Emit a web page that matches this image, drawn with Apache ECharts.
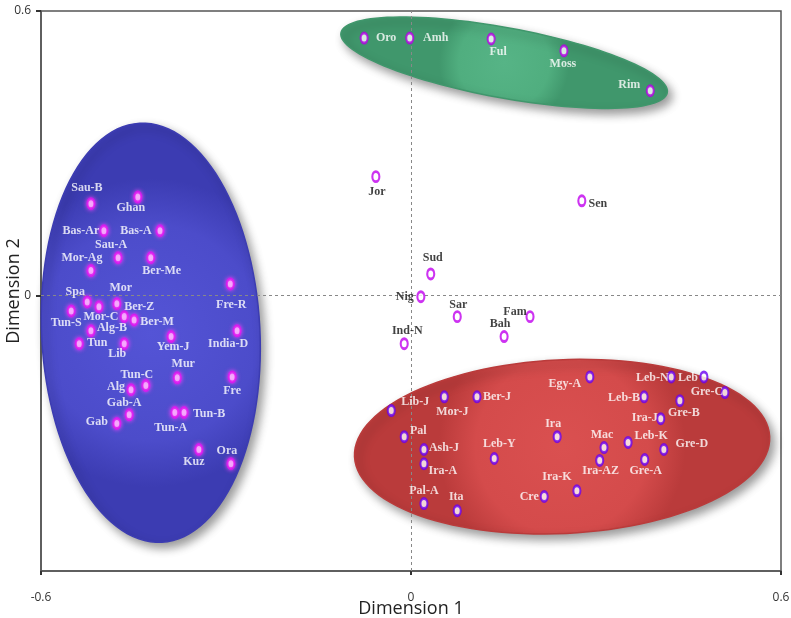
<!DOCTYPE html>
<html>
<head>
<meta charset="utf-8">
<script src="https://cdn.jsdelivr.net/npm/echarts@6/dist/echarts.min.js"></script>
<style>
html,body{margin:0;padding:0;background:#fff;}
#chart{width:791px;height:618px;}
</style>
</head>
<body>
<div id="chart"></div>
<script>
// ---- data ----
const greenNames = ['Oro','Amh','Ful','Moss','Rim'];
const greenX = [-0.076,-0.002,0.130,0.248,0.388];
const greenY = [0.543,0.543,0.541,0.516,0.432];

const otherNames = ['Jor','Sen','Sud','Nig','Sar','Fam','Bah','Ind-N'];
const otherX = [-0.057,0.277,0.032,0.016,0.075,0.193,0.151,-0.011];
const otherY = [0.251,0.200,0.046,-0.002,-0.044,-0.044,-0.086,-0.101];

const blueNames = ['Sau-B','Ghan','Bas-Ar','Bas-A','Sau-A','Mor-Ag','Ber-Me','Fre-R','Spa','Mor','Mor-C','Tun-S','Ber-Z','Ber-M','Alg-B','India-D','Tun','Lib','Yem-J','Mur','Fre','Tun-C','Alg','Gab-A','Gab','Tun-A','Tun-B','Kuz','Ora'];
const blueX = [-0.519,-0.443,-0.498,-0.407,-0.475,-0.519,-0.422,-0.293,-0.525,-0.477,-0.506,-0.551,-0.465,-0.449,-0.519,-0.282,-0.538,-0.465,-0.389,-0.379,-0.290,-0.430,-0.454,-0.457,-0.477,-0.383,-0.368,-0.344,-0.292];
const blueY = [0.194,0.208,0.137,0.137,0.080,0.053,0.080,0.025,-0.013,-0.017,-0.023,-0.032,-0.044,-0.051,-0.074,-0.074,-0.101,-0.101,-0.086,-0.173,-0.171,-0.189,-0.198,-0.251,-0.269,-0.246,-0.246,-0.324,-0.354];

const redNames = ['Lib-J','Mor-J','Ber-J','Pal','Ash-J','Ira-A','Leb-Y','Ira','Pal-A','Ita','Cre','Egy-A','Ira-K','Leb-N','Leb','Gre-C','Leb-B','Gre-B','Ira-J','Mac','Leb-K','Gre-D','Ira-AZ','Gre-A'];
const redX = [-0.032,0.054,0.107,-0.011,0.021,0.021,0.135,0.237,0.021,0.075,0.216,0.290,0.269,0.422,0.475,0.509,0.378,0.436,0.405,0.313,0.352,0.410,0.306,0.379];
const redY = [-0.242,-0.213,-0.213,-0.297,-0.324,-0.354,-0.343,-0.297,-0.438,-0.453,-0.423,-0.171,-0.411,-0.171,-0.171,-0.204,-0.213,-0.221,-0.259,-0.320,-0.309,-0.324,-0.347,-0.345];

const xTicks = [-0.6, 0, 0.6];
const yTicks = [0, 0.6];

// ---- annotation shapes (cluster ellipses): centre x, centre y, radius x, radius y, tilt deg ----
const clusterEllipses = [
  [-0.422, -0.078, 0.177, 0.442, -3],
  [0.151, 0.491, 0.269, 0.074, 10.4],
  [0.245, -0.318, 0.337, 0.183, -2.8]
];
const ellipseFills = [
  ['#5454d6', '#4c4cca', '#3c3cb2'],
  ['#56b486', '#50ae7f', '#40976c'],
  ['#da5050', '#d44b4b', '#ba3b3b']
];

// label placement (px offsets from point)
const labelOffsets = {
  'Oro':[22,0],'Amh':[26,0],'Ful':[7,13],'Moss':[-1,13],'Rim':[-21,-6],
  'Jor':[1,15],'Sen':[16,3],'Sud':[2,-16],'Nig':[-16,0],'Sar':[1,-12],'Fam':[-15,-5],'Bah':[-4,-13],'Ind-N':[3,-13],
  'Sau-B':[-4,-16],'Ghan':[-7,11],'Bas-Ar':[-23,0],'Bas-A':[-24,0],'Sau-A':[-7,-13],'Mor-Ag':[-9,-13],'Ber-Me':[11,13],
  'Fre-R':[1,21],'Spa':[-12,-10],'Mor':[4,-16],'Mor-C':[2,10],'Tun-S':[-5,12],'Ber-Z':[15,-10],'Ber-M':[23,2],
  'Alg-B':[21,-3],'India-D':[-9,13],'Tun':[18,-1],'Lib':[-7,10],'Yem-J':[2,10],'Mur':[6,-14],'Fre':[0,14],
  'Tun-C':[-9,-11],'Alg':[-15,-3],'Gab-A':[-5,-12],'Gab':[-20,-2],'Tun-A':[-4,15],'Tun-B':[25,1],'Kuz':[-5,12],'Ora':[-4,-13],
  'Lib-J':[24,-9],'Mor-J':[8,15],'Ber-J':[20,0],'Pal':[14,-6],'Ash-J':[20,-2],'Ira-A':[19,7],'Leb-Y':[5,-15],
  'Ira':[-4,-13],'Pal-A':[0,-13],'Ita':[-1,-14],'Cre':[-15,0],'Egy-A':[-25,7],'Ira-K':[-20,-14],'Leb-N':[-19,1],
  'Leb':[-16,1],'Gre-C':[-18,-1],'Leb-B':[-20,1],'Gre-B':[4,12],'Ira-J':[-16,-1],'Mac':[-2,-13],'Leb-K':[23,-6],
  'Gre-D':[28,-6],'Ira-AZ':[1,10],'Gre-A':[1,11]
};

function build(names, xs, ys) {
  return names.map((n, i) => ({
    name: n,
    value: [xs[i], ys[i]],
    label: { offset: labelOffsets[n] || [0, 0] }
  }));
}

function scatterSeries(name, data, ring, textColor, glow) {
  return {
    type: 'scatter',
    name: name,
    z: 5,
    symbol: 'circle',
    symbolSize: [7, 10],
    data: data,
    itemStyle: {
      color: '#ffffff',
      borderColor: ring,
      borderWidth: 2.5,
      shadowBlur: glow ? 4 : 0,
      shadowColor: glow || 'transparent'
    },
    label: {
      show: true,
      position: 'inside',
      formatter: '{b}',
      color: textColor,
      fontFamily: 'Liberation Serif',
      fontWeight: 'bold',
      fontSize: 12
    },
    emphasis: { disabled: true }
  };
}

const chart = echarts.init(document.getElementById('chart'), null, { renderer: 'canvas' });

const option = {
  backgroundColor: '#ffffff',
  animation: false,
  grid: {
    left: 41, right: 10, top: 11, bottom: 47,
    containLabel: false,
    outerBoundsMode: 'none',
    show: true, borderColor: '#555', borderWidth: 1.5, backgroundColor: 'transparent'
  },
  xAxis: {
    type: 'value',
    min: xTicks[0], max: xTicks[2], interval: 0.6,
    name: 'Dimension 1',
    nameLocation: 'middle',
    nameGap: 29,
    nameMoveOverlap: false,
    nameTextStyle: { fontFamily: 'Open Sans', fontSize: 18, color: '#222' },
    axisLine: { show: true, onZero: false, lineStyle: { color: '#555', width: 1.5 } },
    axisTick: { show: true, length: 4, lineStyle: { color: '#333', width: 2 } },
    axisLabel: { margin: 21, fontFamily: 'Open Sans', fontSize: 12, color: '#333',
      formatter: v => (Math.abs(v) < 1e-9 ? '0' : String(v)) },
    splitLine: { show: false }
  },
  yAxis: {
    type: 'value',
    min: -0.58, max: 0.6,
    name: 'Dimension 2',
    nameLocation: 'middle',
    nameGap: 18,
    nameMoveOverlap: false,
    nameTextStyle: { fontFamily: 'Open Sans', fontSize: 18, color: '#222' },
    axisLine: { show: true, onZero: false, lineStyle: { color: '#555', width: 1.5 } },
    axisTick: { show: true, length: 5, customValues: yTicks, lineStyle: { color: '#333', width: 2 } },
    axisLabel: { margin: 10, fontFamily: 'Open Sans', fontSize: 12, color: '#333', customValues: yTicks,
      formatter: v => (Math.abs(v) < 1e-9 ? '0' : String(v)) },
    splitLine: { show: false }
  },
  series: [
    {
      type: 'custom',
      name: 'clusters',
      z: 1,
      clip: false,
      silent: true,
      data: clusterEllipses,
      renderItem: function (params, api) {
        const c = api.coord([api.value(0), api.value(1)]);
        const s = api.size([api.value(2), api.value(3)]);
        const rx = s[0], ry = s[1];
        const th = api.value(4) * Math.PI / 180;
        const pts = [];
        for (let i = 0; i < 120; i++) {
          const t = i / 120 * Math.PI * 2;
          const ux = rx * Math.cos(t), uy = ry * Math.sin(t);
          pts.push([c[0] + ux * Math.cos(th) - uy * Math.sin(th),
                    c[1] + ux * Math.sin(th) + uy * Math.cos(th)]);
        }
        const f = ellipseFills[params.dataIndex];
        return {
          type: 'polygon',
          shape: { points: pts },
          style: {
            fill: new echarts.graphic.RadialGradient(0.5, 0.5, 0.7, [
              { offset: 0, color: f[0] },
              { offset: 0.7, color: f[1] },
              { offset: 1, color: f[2] }
            ]),
            stroke: f[2],
            lineWidth: 1.5,
            shadowBlur: 10,
            shadowColor: 'rgba(0,0,0,0.4)',
            shadowOffsetX: 4,
            shadowOffsetY: 5
          }
        };
      }
    },
    Object.assign(scatterSeries('other', build(otherNames, otherX, otherY), '#c000ee', '#111', null), {
      markLine: {
        silent: true,
        symbol: 'none',
        label: { show: false },
        lineStyle: { color: '#888', type: [3, 3], width: 1 },
        data: [{ xAxis: 0 }, { yAxis: 0 }],
        z: 3
      }
    }),
    scatterSeries('green', build(greenNames, greenX, greenY), '#b400e6', '#ffffff', null),
    scatterSeries('blue', build(blueNames, blueX, blueY), '#e010f0', '#ffffff', '#ff40ff'),
    scatterSeries('red', build(redNames, redX, redY), '#6a00f0', '#ffffff', null)
  ]
};

chart.setOption(option);
</script>
</body>
</html>
